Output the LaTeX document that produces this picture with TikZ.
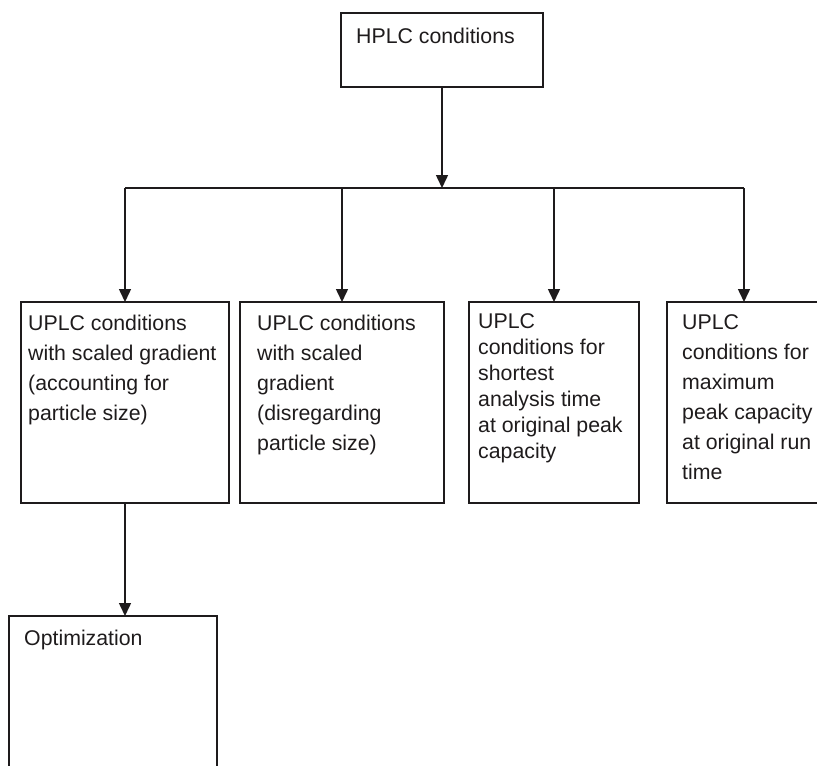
\documentclass[tikz,border=0pt]{standalone}
\usepackage{fontspec}
\setmainfont{Liberation Sans}
\usetikzlibrary{arrows.meta}
\definecolor{ink}{RGB}{30,27,28}
\begin{document}
\begin{tikzpicture}[x=1pt,y=-1pt,
  box/.style={draw=ink,line width=1.5pt,rectangle,inner sep=0pt,outer sep=0pt,anchor=north west},
  txt/.style={anchor=north west,inner sep=0pt,align=left,text=ink,font=\fontsize{21.3}{30}\selectfont},
  txttight/.style={txt,font=\fontsize{21.3}{26}\selectfont},
  arr/.style={draw=ink,line width=1.5pt,-{Triangle[length=13pt,width=12pt]}},
  ln/.style={draw=ink,line width=1.5pt}]
\useasboundingbox (0,0) rectangle (817,766);
\clip (0,0) rectangle (817,766);
% boxes
\node[box,minimum width=202pt,minimum height=74pt] (top) at (341,13) {};
\node[box,minimum width=208pt,minimum height=201pt] (b1) at (21,302) {};
\node[box,minimum width=204pt,minimum height=201pt] (b2) at (240,302) {};
\node[box,minimum width=170pt,minimum height=201pt] (b3) at (469,302) {};
\node[box,minimum width=154pt,minimum height=201pt] (b4) at (667,302) {};
\node[box,minimum width=208pt,minimum height=200pt] (opt) at (9,616) {};
% texts
\node[txt] (ttop) at (356,22) {\strut HPLC conditions};
\node[txt] (t1) at (28,309) {\strut UPLC conditions\\with scaled gradient\\(accounting for\\particle size)};
\node[txt] (t2) at (257,309) {\strut UPLC conditions\\with scaled\\gradient\\(disregarding\\particle size)};
\node[txttight] (t3) at (478,310.5) {\strut UPLC\\conditions for\\shortest\\analysis time\\at original peak\\capacity};
\node[txt] (t4) at (682,308) {\strut UPLC\\conditions for\\maximum\\peak capacity\\at original run\\time};
\node[txt] (topt) at (24,624) {\strut Optimization};
% connectors
\coordinate (bar) at (442,188);
\draw[arr] (top.south) -- (top.south |- bar);
\draw[ln] (b1.north |- bar) -- (b4.north |- bar);
\draw[arr] (b1.north |- bar) -- (b1.north);
\draw[arr] (b2.north |- bar) -- (b2.north);
\draw[arr] (b3.north |- bar) -- (b3.north);
\draw[arr] (b4.north |- bar) -- (b4.north);
\draw[arr] (b1.south) -- (b1.south |- opt.north);
\end{tikzpicture}
\end{document}
